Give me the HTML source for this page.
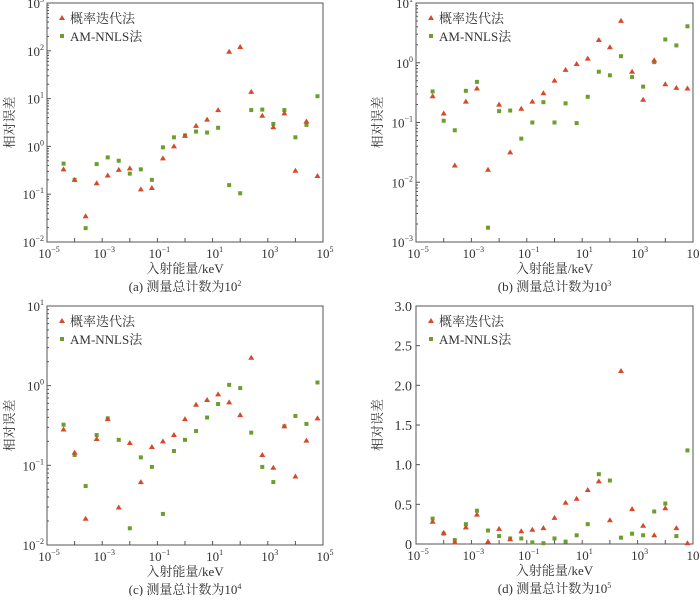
<!DOCTYPE html>
<html><head><meta charset="utf-8"><style>
html,body{margin:0;padding:0;background:#fff;}
svg text{font-family:"Liberation Serif","Noto Serif CJK SC",serif;fill:#333;}
</style></head><body>
<svg id="fig" width="700" height="596" xmlns="http://www.w3.org/2000/svg"></svg>
<script>
const xLogs = [-4.4,-4.0,-3.6,-3.2,-2.8,-2.4,-2.0,-1.6,-1.2,-0.8,-0.4,0.0,0.4,0.8,1.2,1.6,2.0,2.4,2.8,3.2,3.6,4.0,4.4,4.8];
const aRed = [-0.48,-0.70,-1.46,-0.77,-0.61,-0.49,-0.46,-0.90,-0.87,-0.25,0.0,0.22,0.43,0.56,0.76,1.98,2.08,1.14,0.64,0.40,0.69,-0.51,0.52,-0.62];
const aGreen = [-0.36,-0.70,-1.71,-0.37,-0.23,-0.30,-0.57,-0.48,-0.70,-0.02,0.19,0.23,0.31,0.29,0.39,-0.81,-0.98,0.76,0.77,0.47,0.76,0.19,0.45,1.05];
const bRed = [-0.56,-0.85,-1.72,-0.65,-0.43,-1.79,-0.70,-1.50,-0.77,-0.65,-0.51,-0.30,-0.12,-0.02,0.07,0.38,0.26,0.70,-0.15,-0.62,0.04,-0.36,-0.42,-0.43];
const bGreen = [-0.48,-0.97,-1.13,-0.47,-0.32,-2.76,-0.81,-0.80,-1.27,-1.0,-0.66,-1.0,-0.68,-1.01,-0.57,-0.15,-0.21,0.11,-0.24,-0.40,0.01,0.39,0.29,0.61];
const cRed = [-0.55,-0.84,-1.67,-0.67,-0.42,-1.53,-0.72,-1.21,-0.77,-0.70,-0.62,-0.42,-0.24,-0.18,-0.11,-0.21,-0.37,0.35,-0.87,-1.03,-0.51,-1.14,-0.69,-0.41];
const cGreen = [-0.49,-0.87,-1.26,-0.62,-0.41,-0.68,-1.79,-0.90,-1.02,-1.61,-0.82,-0.68,-0.57,-0.40,-0.23,0.01,-0.03,-0.59,-1.02,-1.21,-0.51,-0.38,-0.48,0.04];
const dRed = [0.28,0.14,0.02,0.21,0.37,0.03,0.19,0.06,0.16,0.18,0.20,0.33,0.52,0.57,0.68,0.79,0.30,2.18,0.44,0.23,0.11,0.45,0.20,0.01];
const dGreen = [0.32,0.13,0.05,0.25,0.42,0.17,0.10,0.07,0.07,0.02,0.01,0.07,0.03,0.11,0.25,0.88,0.80,0.08,0.13,0.11,0.41,0.51,0.10,1.18];
const xTickExps = [-5,-3,-1,1,3,5];
const aYTicks = [-2,-1,0,1,2,3];
const bYTicks = [-3,-2,-1,0,1];
const cYTicks = [-2,-1,0,1];
const dYTicks = ["0","0.5","1.0","1.5","2.0","2.5","3.0"];

const NS="http://www.w3.org/2000/svg";
const svg=document.getElementById('fig');
function mk(tag,attrs,parent){const e=document.createElementNS(NS,tag);for(const k in attrs)e.setAttribute(k,attrs[k]);(parent||svg).appendChild(e);return e;}
function pow(g,x,y,base,exp,anchor){
  const t=mk('text',{x:x,y:y,'font-size':13,'text-anchor':anchor},g);
  t.textContent=base;
  const s=mk('tspan',{'font-size':8,dy:-6},t);s.textContent=exp;
  return t;
}
const panels=[
 {id:'a',x0:47,x1:323,y0:3,y1:242,log:true,ymin:-2,ymax:3,yt:aYTicks,red:aRed,green:aGreen,cap:'(a) 测量总计数为10',sup:'2',ty:10},
 {id:'b',x0:416,x1:693,y0:3,y1:242,log:true,ymin:-3,ymax:1,yt:bYTicks,red:bRed,green:bGreen,cap:'(b) 测量总计数为10',sup:'3',ty:378},
 {id:'c',x0:47,x1:323,y0:306,y1:545,log:true,ymin:-2,ymax:1,yt:cYTicks,red:cRed,green:cGreen,cap:'(c) 测量总计数为10',sup:'4',ty:10},
 {id:'d',x0:416,x1:693,y0:306,y1:544,log:false,ymin:0,ymax:3,yt:dYTicks,red:dRed,green:dGreen,cap:'(d) 测量总计数为10',sup:'5',ty:378}
];
panels.forEach(p=>{
  const g=mk('g',{});
  
  
  const xs=v=>p.x0+(v+5)/10*(p.x1-p.x0);
  const ys=v=>p.y1-(v-p.ymin)/(p.ymax-p.ymin)*(p.y1-p.y0);
  const fr=mk('rect',{x:p.x0,y:p.y0,width:p.x1-p.x0,height:p.y1-p.y0,fill:'none',stroke:'#555','stroke-width':1},g);
  
  
  for(let e=-5;e<=5;e++){const X=xs(e);mk('line',{x1:X,x2:X,y1:p.y1,y2:p.y1-4,stroke:'#555'},g);}
  xTickExps.forEach(e=>{const t=pow(g,xs(e)+2,p.y1+16,'10',(e<0?'−':'')+Math.abs(e),'middle');
    });
  if(p.log){
    for(let e=p.ymin;e<=p.ymax;e++){const Y=ys(e);mk('line',{x1:p.x0,x2:p.x0+4,y1:Y,y2:Y,stroke:'#555'},g);
      if(e<p.ymax)for(let m=2;m<10;m++){const Ym=ys(e+Math.log10(m));mk('line',{x1:p.x0,x2:p.x0+2,y1:Ym,y2:Ym,stroke:'#555'},g);}}
    p.yt.forEach(e=>{const t=pow(g,p.x0-3,ys(e)+5,'10',(e<0?'−':'')+Math.abs(e),'end');
      });
  } else {
    p.yt.forEach(s=>{const v=parseFloat(s);const Y=ys(v);mk('line',{x1:p.x0,x2:p.x0+4,y1:Y,y2:Y,stroke:'#555'},g);
      const t=mk('text',{x:p.x0-4,y:Y+5,'font-size':14,'text-anchor':'end'},g);t.textContent=s;
      });
  }
  xLogs.forEach((xv,i)=>{
    const X=xs(xv);
    const Yg=ys(p.green[i]);
    const sq=mk('rect',{x:X-2,y:Yg-2,width:4,height:4,fill:'#6b9e2c'},g);
    
    
    const Yr=ys(p.red[i]);
    const tr=mk('polygon',{points:`${X},${Yr-3} ${X-3},${Yr+2} ${X+3},${Yr+2}`,fill:'#d8482a'},g);
    
    
  });
  const lg=mk('g',{},g);
  
  
  const lx=p.x0+15, ly=p.y0+15;
  mk('polygon',{points:`${lx},${ly-3} ${lx-3},${ly+2} ${lx+3},${ly+2}`,fill:'#d8482a'},lg);
  let t=mk('text',{x:lx+8,y:ly+5,'font-size':13},lg);t.textContent='概率迭代法';
  mk('rect',{x:lx-2,y:ly+16,width:4,height:4,fill:'#6b9e2c'},lg);
  t=mk('text',{x:lx+8,y:ly+23,'font-size':13},lg);t.textContent='AM-NNLS法';
  const cx=(p.x0+p.x1)/2;
  t=mk('text',{x:cx,y:p.y1+31,'font-size':13,'text-anchor':'middle'},g);t.textContent='入射能量/keV';
  
  t=mk('text',{x:cx,y:p.y1+49,'font-size':13,'text-anchor':'middle'},g);t.textContent=p.cap;
  const sp=mk('tspan',{'font-size':8,dy:-5},t);sp.textContent=p.sup;
  
  const my=(p.y0+p.y1)/2;
  t=mk('text',{x:p.ty,y:my,'font-size':13,'text-anchor':'middle',transform:`rotate(-90 ${p.ty} ${my}) translate(0 4)`},g);t.textContent='相对误差';
  
});
</script>
</body></html>
